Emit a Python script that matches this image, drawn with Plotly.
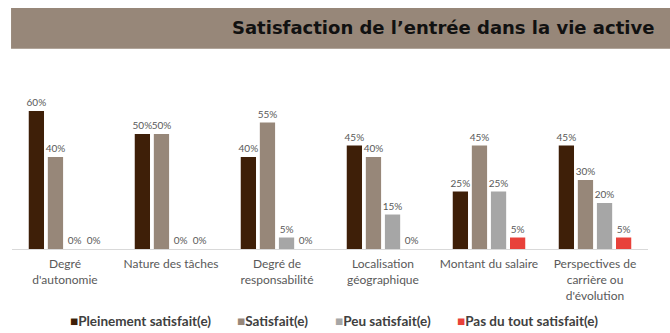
import plotly.graph_objects as go

categories = [
    "Degré<br>d'autonomie",
    "Nature des tâches",
    "Degré de<br>responsabilité",
    "Localisation<br>géographique",
    "Montant du salaire",
    "Perspectives de<br>carrière ou<br>d'évolution",
]
series_names = [
    "Pleinement satisfait(e)",
    "Satisfait(e)",
    "Peu satisfait(e)",
    "Pas du tout satisfait(e)",
]
pleinement = [60, 50, 40, 45, 25, 45]
satisfait = [40, 50, 55, 40, 45, 30]
peu = [0, 0, 5, 15, 25, 20]
pas_du_tout = [0, 0, 0, 0, 5, 5]
series_values = [pleinement, satisfait, peu, pas_du_tout]
colors = ["#3E1F08", "#978779", "#A6A6A6", "#E8413A"]

fig = go.Figure()
for name, vals, col in zip(series_names, series_values, colors):
    fig.add_trace(go.Bar(
        x=categories, y=vals, name=name,
        marker=dict(color=col, line=dict(width=0)),
        text=[f"{v}%" for v in vals], textposition="outside",
        textfont=dict(family="Lato", size=10, color="#595959"),
        constraintext="none",
        cliponaxis=False,
        showlegend=False,
    ))

# title band
fig.add_shape(type="rect", xref="paper", yref="paper",
              x0=-0.0015, x1=1.04, y0=1.06, y1=1.275,
              fillcolor="#978779", line=dict(width=0), layer="below")
fig.add_annotation(text="<b>Satisfaction de l’entrée dans la vie active</b>",
                   xref="paper", yref="paper", x=1.013, y=1.17,
                   xanchor="right", yanchor="middle", showarrow=False,
                   font=dict(family="DejaVu Sans", size=18, color="#111111"))

# legend row: coloured square + series name, one entry per series
legend_x = [0.088, 0.351, 0.505, 0.696]
for n, c, lx in zip(series_names, colors, legend_x):
    fig.add_annotation(text=f"<b><span style='color:{c}'>■</span>{n}</b>",
                       xref="paper", yref="paper", x=lx, y=-0.38,
                       xanchor="left", yanchor="middle", showarrow=False,
                       font=dict(family="Lato", size=13.5, color="#404040"))

fig.update_layout(
    width=670, height=333,
    margin=dict(l=12, r=22, t=60, b=84),
    paper_bgcolor="white", plot_bgcolor="white",
    barmode="group", bargap=0.28, bargroupgap=0.2,
    showlegend=False,
    xaxis=dict(showline=True, linecolor="#D9D9D9", linewidth=1,
               tickfont=dict(family="Lato", size=12, color="#595959"),
               ticks="", showgrid=False, automargin=False,
               ticklabelstandoff=4),
    yaxis=dict(range=[0, 82.2], visible=False, showgrid=False),
    font=dict(family="Lato"),
)

fig.write_html("out.html")
